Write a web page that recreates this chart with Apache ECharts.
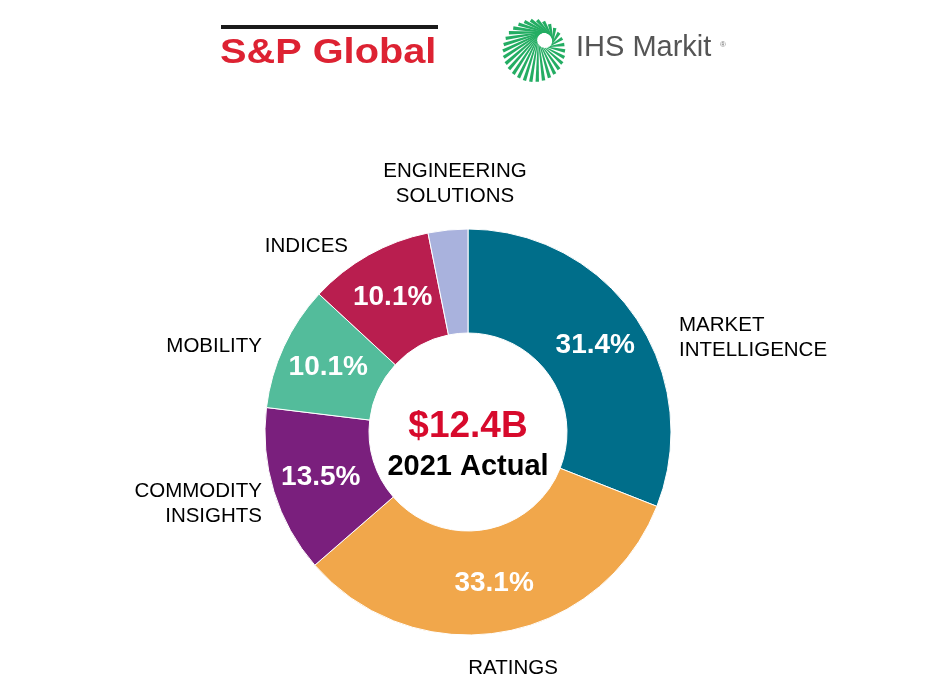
<!DOCTYPE html>
<html>
<head>
<meta charset="utf-8">
<script src="https://cdn.jsdelivr.net/npm/echarts@6/dist/echarts.min.js"></script>
<style>
html,body{margin:0;padding:0;background:#fff;}
#c{width:934px;height:687px;}
</style>
</head>
<body>
<div id="c"></div>
<script>
var categories = ['MARKET\nINTELLIGENCE', 'RATINGS', 'COMMODITY\nINSIGHTS', 'MOBILITY', 'INDICES', 'ENGINEERING\nSOLUTIONS'];
var shares = [31.4, 33.1, 13.5, 10.1, 10.1, 3.2];
var colors = ['#006E8A', '#F1A74B', '#7A1F7D', '#53BC9B', '#B91E4F', '#A9B2DD'];
var totalText = '$12.4B';
var subText = '2021 Actual';

// layout of outer labels (not data)
var outerPos = [
  {x: 679, y: 338, align: 'left'},
  {x: 513, y: 668, align: 'center'},
  {x: 262, y: 504, align: 'right'},
  {x: 262, y: 346, align: 'right'},
  {x: 348, y: 246, align: 'right'},
  {x: 455, y: 184, align: 'center'}
];

var data = categories.map(function (n, i) {
  return {name: n, value: shares[i], itemStyle: {color: colors[i]}};
});

var F = 'Liberation Sans, Arial, sans-serif';

// sunburst logo (decoration)
var logo = [];
var C = [534, 51], R = 31, H = [545, 40], hr = 8;
var N = 30;
for (var i = 0; i < N; i++) {
  var t = Math.PI * 2 * i / N;
  var ox = C[0] + R * Math.cos(t), oy = C[1] + R * Math.sin(t);
  var t2 = t + 1.15;
  var ix = H[0] + hr * Math.cos(t2), iy = H[1] + hr * Math.sin(t2);
  var dx = ox - ix, dy = oy - iy, L = Math.sqrt(dx * dx + dy * dy);
  if (L < 4) continue;
  var nx = -dy / L, ny = dx / L;
  var wo = 1.7, wi = 0.5;
  logo.push({
    type: 'polygon', silent: true,
    shape: {points: [[ox + nx * wo, oy + ny * wo], [ox - nx * wo, oy - ny * wo], [ix - nx * wi, iy - ny * wi], [ix + nx * wi, iy + ny * wi]]},
    style: {fill: '#24AD63'}
  });
}

var chart = echarts.init(document.getElementById('c'), null, {renderer: 'canvas'});
chart.setOption({
  backgroundColor: '#ffffff',
  animation: false,
  graphic: [
    {type: 'rect', shape: {x: 221, y: 25, width: 217, height: 4}, style: {fill: '#1a1a1a'}},
    {type: 'text', x: 220, y: 36, scaleX: 1.135, style: {text: 'S&P Global', font: 'bold 35px ' + F, fill: '#DD2232', verticalAlign: 'top'}},
    {type: 'text', left: 576, top: 33, style: {text: 'IHS Markit', font: '29px ' + F, fill: '#555555'}},
    {type: 'text', left: 720, top: 41, style: {text: '®', font: '8px ' + F, fill: '#777'}},
    {type: 'group', children: logo},
    {type: 'text', x: 468, y: 427, style: {text: totalText, font: 'bold 37px ' + F, fill: '#D70A2C', align: 'center', verticalAlign: 'middle'}},
    {type: 'text', x: 468, y: 467, style: {text: subText, font: 'bold 29px ' + F, fill: '#000', align: 'center', verticalAlign: 'middle'}}
  ],
  series: [
    {
      type: 'pie',
      center: [468, 432],
      radius: [99, 203],
      startAngle: 90,
      clockwise: true,
      silent: true,
      itemStyle: {borderColor: '#ffffff', borderWidth: 1},
      label: {
        show: true, position: 'inside',
        formatter: function (p) { return p.value.toFixed(1) + '%'; },
        color: '#fff', fontFamily: F, fontWeight: 'bold', fontSize: 28
      },
      labelLine: {show: false},
      data: data
    },
    {
      type: 'pie',
      center: [468, 432],
      radius: [99, 203],
      startAngle: 90,
      clockwise: true,
      silent: true,
      itemStyle: {color: 'rgba(0,0,0,0)', borderWidth: 0},
      label: {
        show: true, position: 'outside',
        formatter: '{b}',
        color: '#000', fontFamily: F, fontSize: 20.5, lineHeight: 25
      },
      labelLine: {show: false},
      labelLayout: function (p) {
        var o = outerPos[p.dataIndex];
        return {x: o.x, y: o.y, align: o.align, verticalAlign: 'middle', hideOverlap: false};
      },
      data: categories.map(function (n, i) { return {name: n, value: shares[i]}; })
    }
  ]
});
</script>
</body>
</html>
